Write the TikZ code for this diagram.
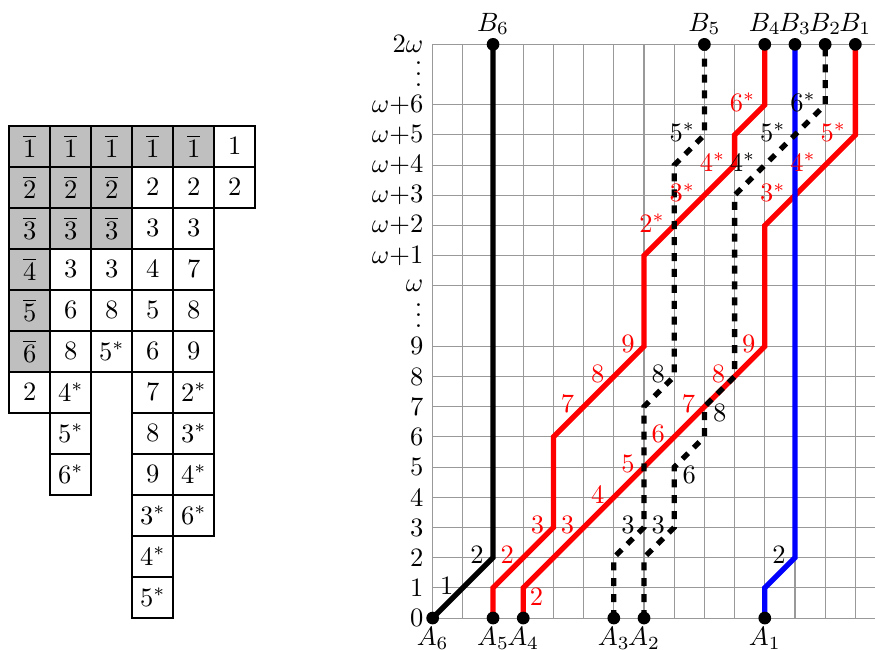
\documentclass[tikz,border=0pt]{standalone}
\begin{document}
\begin{tikzpicture}[x=0.4cm,y=0.4cm,
  gridline/.style={black!40, line width=0.4pt},
  redpath/.style={red, line width=2pt},
  bluepath/.style={blue, line width=2pt},
  blackpath/.style={black, line width=2pt},
  dashpath/.style={black, line width=2pt, dash pattern=on 3pt off 3pt},
  dotnode/.style={circle, fill=black, inner sep=0pt, minimum size=4.8pt},
  lab/.style={left, yshift=1pt},
  rlab/.style={lab, text=red},
  vdotlab/.style={anchor=base east, inner sep=0pt},
  cell/.style={draw, line width=0.8pt, minimum size=0.5432cm, inner sep=0pt},
  shaded/.style={cell, fill=lightgray}]
\useasboundingbox (-14.33,-1.05) rectangle (14.65,20.47);

% ---------- tableau ----------
\foreach \r/\n in {1/5,2/3,3/3,4/1,5/1,6/1}
  \foreach \col in {1,...,\n}
    \node[shaded] (g\r-\col) at ({-14.02+(\col-0.5)*1.358},{16.30-(\r-0.5)*1.358}) {$\overline{\r}$};
\foreach \r/\col/\t in {1/6/1, 2/4/2, 2/5/2, 2/6/2, 3/4/3, 3/5/3,
   4/2/3, 4/3/3, 4/4/4, 4/5/7, 5/2/6, 5/3/8, 5/4/5, 5/5/8,
   6/2/8, 6/3/5^*, 6/4/6, 6/5/9, 7/1/2, 7/2/4^*, 7/4/7, 7/5/2^*,
   8/2/5^*, 8/4/8, 8/5/3^*, 9/2/6^*, 9/4/9, 9/5/4^*,
   10/4/3^*, 10/5/6^*, 11/4/4^*, 12/4/5^*}
  \node[cell] (w\r-\col) at ({-14.02+(\col-0.5)*1.358},{16.30-(\r-0.5)*1.358}) {$\t$};

% ---------- grid ----------
\foreach \y in {0,...,9,11,12,...,17,19}
  \draw[gridline] (0,\y) -- (14.65,\y);
\foreach \x in {0,...,14}
  \draw[gridline] (\x,0) -- (\x,19);

% ---------- axis labels ----------
\foreach \y in {0,...,9}
  \node[left] (y\y) at (0,\y) {\y};
\node[vdotlab] (y10) at (-0.33,9.62) {$\smash{\vdots}$};
\node[left] (y11) at (0,11) {$\omega$};
\foreach \k in {1,...,6}
  \node[left] (yw\k) at (0,{11+\k}) {$\omega{+}\k$};
\node[vdotlab] (y18) at (-0.33,17.62) {$\smash{\vdots}$};
\node[left] (y19) at (0,19) {$2\omega$};

% ---------- end points ----------
\coordinate (A6) at (0,0);
\coordinate (A5) at (2,0);
\coordinate (A4) at (3,0);
\coordinate (A3) at (6,0);
\coordinate (A2) at (7,0);
\coordinate (A1) at (11,0);
\coordinate (B6) at (2,19);
\coordinate (B5) at (9,19);
\coordinate (B4) at (11,19);
\coordinate (B3) at (12,19);
\coordinate (B2) at (13,19);
\coordinate (B1) at (14,19);

% ---------- paths ----------
\draw[redpath] (A5) -- (2,1) -- (4,3) -- (4,6) -- (7,9) -- (7,12) -- (10,15) -- (10,16) -- (11,17) -- (B4);
\draw[redpath] (A4) -- (3,1) -- (11,9) -- (11,13) -- (14,16) -- (B1);
\draw[bluepath] (A1) -- (11,1) -- (12,2) -- (B3);
\draw[blackpath] (A6) -- (2,2) -- (B6);
\draw[dashpath] (A3) -- (6,2) -- (7,3) -- (7,7) -- (8,8) -- (8,15) -- (9,16) -- (B5);
\draw[dashpath] (A2) -- (7,2) -- (8,3) -- (8,5) -- (9,6) -- (9,7) -- (10,8) -- (10,14) -- (13,17) -- (B2);

% ---------- path labels ----------
% black path
\node[lab] (k1) at (1,1) {1};
\node[lab] (k2) at (2,2) {2};
% blue path
\node[lab] (b2) at (12,2) {2};
% first red path
\node[rlab] (p2) at (3,2) {2};
\node[rlab] (p3) at (4,3) {3};
\node[rlab] (p7) at (5,7) {7};
\node[rlab] (p8) at (6,8) {8};
\node[rlab] (p9) at (7,9) {9};
\node[rlab] (p2s) at (8,13) {$2^*$};
\node[rlab] (p3s) at (9,14) {$3^*$};
\node[rlab] (p4s) at (10,15) {$4^*$};
\node[rlab] (p6s) at (11,17) {$6^*$};
% second red path
\node[text=red] (q2) at (3.44,0.72) {2};
\node[rlab] (q3) at (5,3) {3};
\node[rlab] (q4) at (6,4) {4};
\node[rlab] (q5) at (7,5) {5};
\node[rlab] (q6) at (8,6) {6};
\node[rlab] (q7) at (9,7) {7};
\node[rlab] (q8) at (10,8) {8};
\node[rlab] (q9) at (11,9) {9};
\node[rlab] (q3s) at (12,14) {$3^*$};
\node[rlab] (q4s) at (13,15) {$4^*$};
\node[rlab] (q5s) at (14,16) {$5^*$};
% first dashed path
\node[lab] (d3) at (7,3) {3};
\node[lab] (d8) at (8,8) {8};
\node[lab] (d5s) at (9,16) {$5^*$};
% second dashed path
\node[lab] (e3) at (8,3) {3};
\node (e6) at (8.5,4.74) {6};
\node (e8) at (9.51,6.79) {8};
\node[lab] (e4s) at (11,15) {$4^*$};
\node[lab] (e5s) at (12,16) {$5^*$};
\node[lab] (e6s) at (13,17) {$6^*$};

% ---------- dots and end labels ----------
\foreach \p in {A1,A2,A3,A4,A5,A6,B1,B2,B3,B4,B5,B6}
  \node[dotnode] (d\p) at (\p) {};
\foreach \i in {1,...,6} {
  \node[below] (tA\i) at (A\i) {$A_{\i}$};
  \node[above] (tB\i) at (B\i) {$B_{\i}$};
}
\end{tikzpicture}
\end{document}
